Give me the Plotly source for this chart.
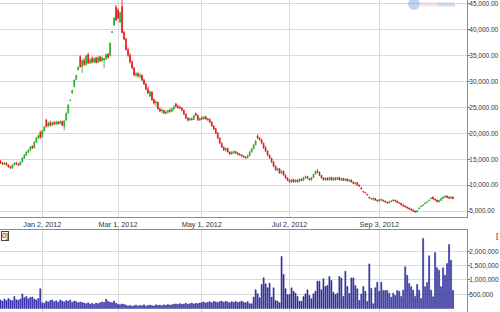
import pandas as pd
import plotly.graph_objects as go

# ---------------- data ----------------
holidays = ["2012-01-23", "2012-01-24", "2012-01-25", "2012-01-26", "2012-01-27", "2012-04-02"]
dates = [d.strftime("%Y-%m-%d") for d in pd.bdate_range("2011-12-02", "2012-10-24")
         if d.strftime("%Y-%m-%d") not in holidays]

open_ = [14600,14300,14000,14300,13900,13600,13300,13900,14300,14100,13900,14500,15200,15800,16400,16800,17500,17200,18300,19100,
         20200,19300,20500,22600,21400,22000,21600,22100,21800,22200,21900,22300,21400,22600,24000,26350,27800,29000,30400,32300,
         34800,32900,34100,33300,35200,33600,34500,33800,34600,33700,34800,34000,34200,34400,35300,35100,39500,40900,44400,43800,
         41500,44500,39500,38200,36200,35100,33800,32600,31300,31500,31000,31200,30300,29500,28600,27200,28000,26500,25900,26000,
         24700,24300,24400,23900,24100,24400,24300,24700,25700,25200,25000,24900,24500,23700,23000,22600,22800,22700,23900,23500,
         22600,22900,22800,23200,22800,22700,22200,21400,20900,20100,19100,18100,17300,16800,17100,16400,16000,16200,16500,16200,
         16000,15800,15600,15400,15300,15700,16400,17000,17800,19500,19100,18800,18100,17200,16600,15800,15200,14500,13700,12900,
         13200,12300,12700,11900,11400,10900,10600,11100,10600,11000,10650,11200,10900,11500,11700,11300,11000,11500,12100,12700,
         12500,11900,11400,11000,11400,11000,11500,11000,11400,11100,11500,11000,11300,10900,11200,10800,11000,10600,10300,10500,
         10000,9500,8800,8600,8250,7700,7400,7300,7450,7100,6900,7200,7100,6950,6700,6550,6800,6950,7100,6900,
         6600,6500,6150,5950,5750,5600,5400,5200,5000,4800,5400,5800,6100,6400,6650,7000,7350,7700,7330,7130,
         6800,7050,7400,7700,7900,7600,7500,7700]
high = [14900,14500,14400,14400,14000,13700,14000,14400,14500,14200,14600,15400,16000,16500,16900,17500,17700,18500,19300,19800,
        20500,20700,21500,22800,22300,22500,22300,22400,22500,22400,22500,22500,22600,24000,25600,26500,28400,30400,31300,32900,
        35100,34300,34600,35200,35600,34500,34900,34700,34800,35000,35000,34900,34600,35400,35500,37600,39700,42400,44800,44200,
        43500,47000,39800,38500,36600,35500,34100,32900,31900,31800,31700,31400,30600,29800,29000,28300,28100,26800,26400,26100,
        25000,24800,24600,24400,24600,24800,25000,25500,25900,25600,25400,25100,24600,23900,23100,23000,23100,23700,24000,23600,
        23100,23300,23400,23400,23000,22900,22300,21600,21000,20200,19200,18300,17500,17300,17200,16500,16600,16700,16600,16400,
        16200,16000,15800,15600,15900,16600,17200,17900,18700,19800,19300,18900,18200,17600,16700,15900,15300,14600,13800,13400,
        13300,12900,12800,12100,11500,11200,11200,11200,11100,11100,11300,11300,11600,11800,11800,11400,11600,12200,12800,13100,
        12600,12000,11500,11500,11500,11600,11600,11500,11500,11600,11600,11400,11400,11300,11300,11100,11100,10700,10600,10600,
        10100,9550,8850,8650,8300,7750,7450,7600,7500,7200,7300,7400,7200,7000,6800,6900,7100,7250,7200,7000,
        6700,6600,6300,6100,5900,5700,5500,5300,5100,5150,5620,6000,6200,6600,6800,7150,7550,7800,7400,7200,
        7200,7500,7800,8000,8000,7900,7800,7800]
low = [14100,13900,13900,13800,13400,13100,13200,13800,13900,13700,13800,14400,15100,15700,16200,16600,17000,17100,18200,18900,
       18900,19200,20300,21100,21200,21300,21400,21600,21700,21700,21800,21400,20600,22400,23800,26300,27700,28900,30300,32200,
       32700,31700,33000,33100,33400,33400,33500,33600,33500,33600,33800,33900,32600,34200,34400,34900,39400,40800,41700,42100,
       41300,39300,38000,36000,34800,33500,32400,31000,30800,30800,30600,30100,29300,28300,27600,27000,26300,25600,25200,24600,
       24100,23900,23700,23700,23800,24000,24100,24500,25000,24800,24700,24300,23500,22800,22300,22400,22500,22600,23300,22400,
       22400,22600,22700,22600,22400,22000,21300,20700,19900,18900,18000,17200,16600,16500,16300,15900,15900,16100,16000,15800,
       15700,15500,15300,15100,15200,15600,16300,16900,17700,18900,18600,17900,17000,16400,15600,15100,14300,13500,12800,12700,
       12200,12200,11800,11200,10800,10500,10500,10500,10500,10500,10600,10800,10800,11200,11200,10900,10900,11400,12000,12300,
       11800,11300,10900,10900,10900,10900,10900,10800,10900,11000,10900,10800,10800,10800,10700,10600,10500,10200,10100,9900,
       9700,9200,8650,8450,8050,7480,7300,7000,7000,6850,6850,7000,6850,6650,6450,6500,6750,6900,6850,6500,
       6450,6100,5900,5700,5500,5300,5100,4900,4700,4750,5380,5780,6050,6380,6600,6980,7320,7200,7000,6700,
       6650,7000,7350,7600,7500,7400,7300,7300]
close = [14280,14090,14280,13890,13500,13310,13890,14280,14090,13890,14470,15250,15830,16400,16790,17370,17180,18340,19100,19500,
         19300,20470,21240,21400,22000,21620,22100,21800,22200,21900,22300,21600,22400,23900,25500,26450,28300,30300,31200,32800,
         32900,34100,33300,35000,33600,34200,33800,34400,33700,34600,34000,34600,34400,35200,34700,37400,39650,42300,41900,42300,
         43300,39500,38200,36200,35100,33800,32640,31300,31500,31100,31200,30320,29540,28580,27800,28000,26450,25870,26100,24710,
         24330,24500,23940,24130,24400,24300,24710,25100,25200,25000,24910,24500,23750,22980,22590,22800,22700,23360,23500,22600,
         22900,22780,23170,22800,22700,22200,21430,20850,20080,19110,18150,17370,16790,17100,16400,16020,16400,16500,16200,16000,
         15830,15630,15440,15250,15700,16400,16990,17760,18530,19100,18800,18150,17180,16600,15830,15250,14470,13700,12930,13200,
         12350,12700,11960,11380,10900,10600,11100,10600,11000,10650,11200,10900,11500,11700,11300,11000,11500,12100,12700,12500,
         11900,11400,11000,11400,11000,11500,11000,11400,11100,11500,11000,11300,10900,11200,10800,11000,10600,10300,10500,10000,
         9800,9260,8680,8490,8100,7520,7330,7450,7130,6940,7200,7130,6950,6750,6550,6800,6950,7130,6940,6600,
         6550,6170,5970,5780,5590,5390,5200,5000,4810,5050,5590,5970,6170,6550,6750,7130,7520,7330,7130,6800,
         7050,7400,7700,7900,7600,7500,7700,7400]
volume_k = [300,260,330,280,350,300,270,420,310,290,330,510,380,420,340,390,400,330,300,350,
            690,200,180,260,230,280,300,240,270,220,300,260,230,280,250,300,220,260,240,200,
            230,210,190,170,200,160,180,150,190,170,200,230,210,320,250,220,200,260,180,150,
            130,160,140,120,90,110,80,100,120,90,110,100,130,90,110,120,100,90,130,110,
            120,100,130,110,140,120,130,150,160,140,170,150,160,180,150,170,190,160,180,170,
            190,210,230,190,220,240,200,250,230,210,240,260,220,250,230,200,240,220,250,210,
            230,260,220,200,240,170,165,395,654,514,374,839,1073,864,724,885,395,724,280,255,
            200,1818,1189,689,490,490,724,605,535,420,255,255,420,514,654,455,340,514,605,955,
            955,654,1038,769,804,1119,980,570,490,535,1120,1060,420,1300,770,525,1070,1070,805,690,
            280,510,770,600,245,1560,700,165,725,920,600,920,630,630,630,535,395,535,455,630,
            605,420,640,1458,1164,874,759,640,420,839,640,350,2448,759,909,1843,640,409,1958,1423,
            1339,759,1423,1164,1573,2238,1689,630]
volume = [v * 1000 for v in volume_k]

tick_dates = ["2012-01-02", "2012-03-01", "2012-05-01", "2012-07-02", "2012-09-03"]
tick_labels = ["Jan 2, 2012", "Mar 1, 2012", "May 1, 2012", "Jul 2, 2012", "Sep 3, 2012"]
price_ticks = [5000, 10000, 15000, 20000, 25000, 30000, 35000, 40000, 45000]
volume_ticks = [500000, 1000000, 1500000, 2000000]

assert len(dates) == len(open_) == len(high) == len(low) == len(close) == len(volume)

# ---------------- style ----------------
W, H = 500, 312
PLOT_W = 467
GREEN = "#2aaa2a"
RED = "#e01818"
FRAME = "#6d8fcc"
GRID = "#dadada"
TXT = "#333333"
FONT = "Liberation Sans, Arial, sans-serif"

top_bottom = 1 - 217 / H
vol_top = 1 - 230 / H

fig = go.Figure()
fig.add_trace(go.Candlestick(
    x=dates, open=open_, high=high, low=low, close=close,
    increasing=dict(line=dict(color=GREEN, width=0.8), fillcolor=GREEN),
    decreasing=dict(line=dict(color=RED, width=0.8), fillcolor=RED),
    whiskerwidth=0, showlegend=False, hoverinfo="skip",
    xaxis="x", yaxis="y"))
fig.add_trace(go.Bar(
    x=dates, y=volume, width=0.55,
    marker=dict(color="#3c3cba", line=dict(color="#1a1a8a", width=0.5)),
    showlegend=False, hoverinfo="skip", xaxis="x2", yaxis="y2"))

xr = [-0.21, 234.0]
fig.update_layout(
    width=W, height=H,
    margin=dict(l=0, r=W - PLOT_W, t=0, b=0),
    paper_bgcolor="white", plot_bgcolor="white",
    font=dict(family=FONT, color=TXT),
    showlegend=False,
    boxgap=0.4,
    xaxis=dict(domain=[0, 1], anchor="y", type="category", range=xr,
               tickmode="array", tickvals=tick_dates, ticktext=tick_labels,
               showgrid=True, gridcolor=GRID, gridwidth=1, ticks="", tickfont=dict(size=7.3, color=TXT),
               showline=True, linecolor=FRAME, linewidth=1, rangeslider=dict(visible=False),
               zeroline=False, automargin=False),
    yaxis=dict(domain=[top_bottom, 1], anchor="x", range=[3848, 45770], side="right",
               tickmode="array", tickvals=price_ticks, tickformat=",.2f",
               showgrid=True, gridcolor=GRID, gridwidth=1, ticks="outside", ticklen=2, tickcolor="#777",
               ticklabelstandoff=-2,
               tickfont=dict(size=6.5, color=TXT), showline=True, linecolor=FRAME, linewidth=1,
               zeroline=False, automargin=False),
    xaxis2=dict(domain=[0, 1], anchor="y2", type="category", matches="x", range=xr,
                tickmode="array", tickvals=tick_dates, showticklabels=False,
                showgrid=True, gridcolor=GRID, gridwidth=1, ticks="",
                showline=True, linecolor=FRAME, linewidth=1, mirror=True,
                zeroline=False, automargin=False),
    yaxis2=dict(domain=[0, vol_top], anchor="x2", range=[-122000, 2745000], side="right",
                tickmode="array", tickvals=volume_ticks, tickformat=",d",
                showgrid=True, gridcolor=GRID, gridwidth=1, ticks="outside", ticklen=2, tickcolor="#777",
                ticklabelstandoff=-2,
                tickfont=dict(size=6.6, color=TXT), showline=True, linecolor=FRAME, linewidth=1,
                zeroline=False, automargin=False),
)

# legend fragments at the panel edges
fig.add_annotation(xref="paper", yref="paper", x=0.5 / PLOT_W, y=1 - 235.5 / H,
                   xanchor="left", yanchor="middle", text="0]", showarrow=False,
                   font=dict(size=7, color="#222"), bordercolor="#444", borderwidth=1, borderpad=0,
                   bgcolor="white")
fig.add_annotation(xref="paper", yref="paper", x=494 / PLOT_W, y=1 - 235.5 / H,
                   xanchor="left", yanchor="middle", text="[", showarrow=False,
                   font=dict(size=8, color="#222"))

# faint logo at top right
def px_x(v):
    return v / PLOT_W

def px_y(v):
    return 1 - v / H

fig.add_shape(type="circle", xref="paper", yref="paper", x0=px_x(408), x1=px_x(420), y0=px_y(10), y1=px_y(-2),
              fillcolor="#5a7cd6", opacity=0.35, line=dict(width=0), layer="above")
fig.add_shape(type="rect", xref="paper", yref="paper", x0=px_x(420), x1=px_x(437), y0=px_y(6.5), y1=px_y(2.5),
              fillcolor="#f0b8c2", opacity=0.4, line=dict(width=0), layer="above")
fig.add_shape(type="rect", xref="paper", yref="paper", x0=px_x(437), x1=px_x(455), y0=px_y(6.5), y1=px_y(2.5),
              fillcolor="#a9bde8", opacity=0.5, line=dict(width=0), layer="above")

fig.write_html("out.html", config={"displayModeBar": False})
